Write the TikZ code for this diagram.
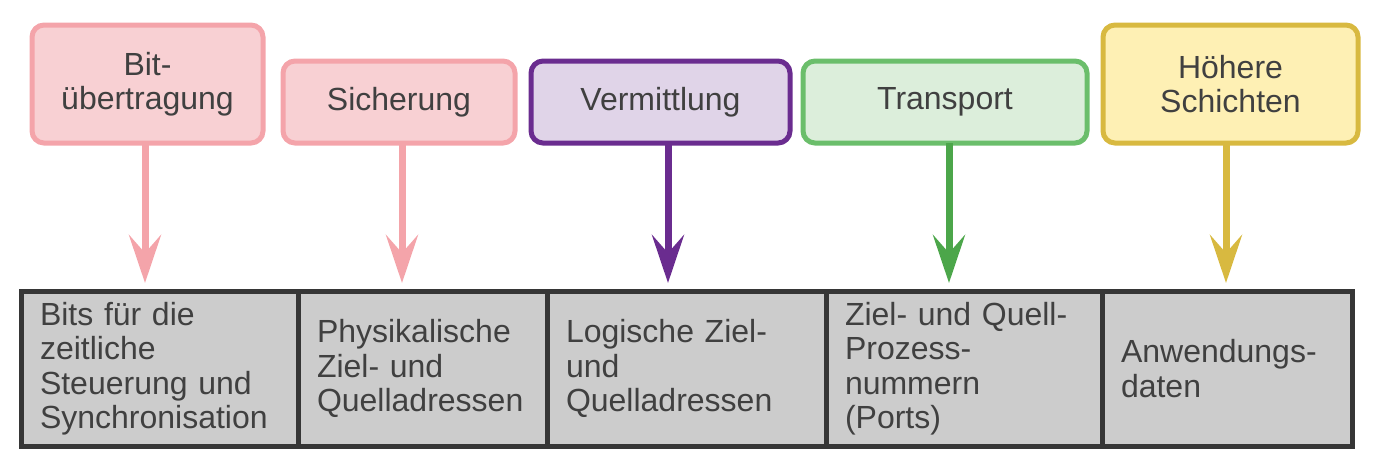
\documentclass[tikz,border=0pt]{standalone}
\usepackage{fontspec}
\setmainfont{Liberation Sans}
\usepackage{xcolor}
\usetikzlibrary{arrows.meta, positioning}

\definecolor{pinkline}{HTML}{F4A4AA}
\definecolor{pinkfill}{HTML}{F8D0D3}
\definecolor{purpline}{HTML}{6A2C8F}
\definecolor{purpfill}{HTML}{E0D4E8}
\definecolor{greenline}{HTML}{6BBE6B}
\definecolor{greenfill}{HTML}{DCEEDB}
\definecolor{greenarrow}{HTML}{4CA64A}
\definecolor{yellline}{HTML}{D8B940}
\definecolor{yellfill}{HTML}{FEF0B4}
\definecolor{cellgray}{HTML}{CCCCCC}
\definecolor{cellline}{HTML}{363636}
\definecolor{txtgray}{HTML}{404040}

\tikzset{
  layerbox/.style={draw, rounded corners=12pt, line width=5pt, outer sep=0pt,
    align=center, text=txtgray, minimum height=82pt, inner sep=0pt,
    font=\fontsize{32}{33.5}\selectfont},
  datacell/.style={draw=cellline, fill=cellgray, line width=5pt, outer sep=0pt,
    minimum height=155pt, align=left, inner xsep=19pt, inner ysep=0pt,
    text=txtgray, font=\fontsize{32}{34.5}\selectfont},
  layerarrow/.style={line width=7pt, -{Stealth[length=48pt,width=32pt,inset=18pt]}},
}

\begin{document}
\begin{tikzpicture}[x=1pt, y=-1pt]
\useasboundingbox (0,0) rectangle (1374,475);

% layer names
\node[layerbox, draw=pinkline, fill=pinkfill, minimum width=231pt, minimum height=118pt]
  (bit) at (147.5,84) {Bit-\\übertragung};
\node[layerbox, draw=pinkline, fill=pinkfill, minimum width=232pt,
  right=20pt of bit.south east, anchor=south west] (sich) {Sicherung};
\node[layerbox, draw=purpline, fill=purpfill, minimum width=259pt,
  right=16pt of sich.south east, anchor=south west] (verm) {Vermittlung};
\node[layerbox, draw=greenline, fill=greenfill, minimum width=284pt,
  right=13pt of verm.south east, anchor=south west] (trans) {Transport};
\node[layerbox, draw=yellline, fill=yellfill, minimum width=255pt, minimum height=118pt,
  right=16pt of trans.south east, anchor=south west] (hoeh) {Höhere\\Schichten};

% header fields
\node[datacell, text width=239pt] (bitdata) at (159.5,368.5)
  {Bits für die\\zeitliche\\Steuerung und\\Synchronisation};
\node[datacell, text width=211pt, right=0pt of bitdata] (sichdata)
  {Physikalische\\Ziel- und\\Quelladressen};
\node[datacell, text width=241pt, right=0pt of sichdata] (vermdata)
  {Logische Ziel-\\und\\Quelladressen};
\node[datacell, text width=238pt, right=0pt of vermdata] (transdata)
  {Ziel- und Quell-\\Prozess-\\nummern\\(Ports)};
\node[datacell, text width=212pt, right=0pt of transdata] (hoehdata)
  {Anwendungs-\\daten};

\coordinate (tips) at (0,283);
\draw[layerarrow, pinkline] ([xshift=-2.5pt]bit.south) -- ([xshift=-2.5pt]bit.south |- tips);
\draw[layerarrow, pinkline] ([xshift=3pt]sich.south) -- ([xshift=3pt]sich.south |- tips);
\draw[layerarrow, purpline] ([xshift=7.5pt]verm.south) -- ([xshift=7.5pt]verm.south |- tips);
\draw[layerarrow, greenarrow] ([xshift=4pt]trans.south) -- ([xshift=4pt]trans.south |- tips);
\draw[layerarrow, yellline] ([xshift=-4.5pt]hoeh.south) -- ([xshift=-4.5pt]hoeh.south |- tips);
\end{tikzpicture}
\end{document}
